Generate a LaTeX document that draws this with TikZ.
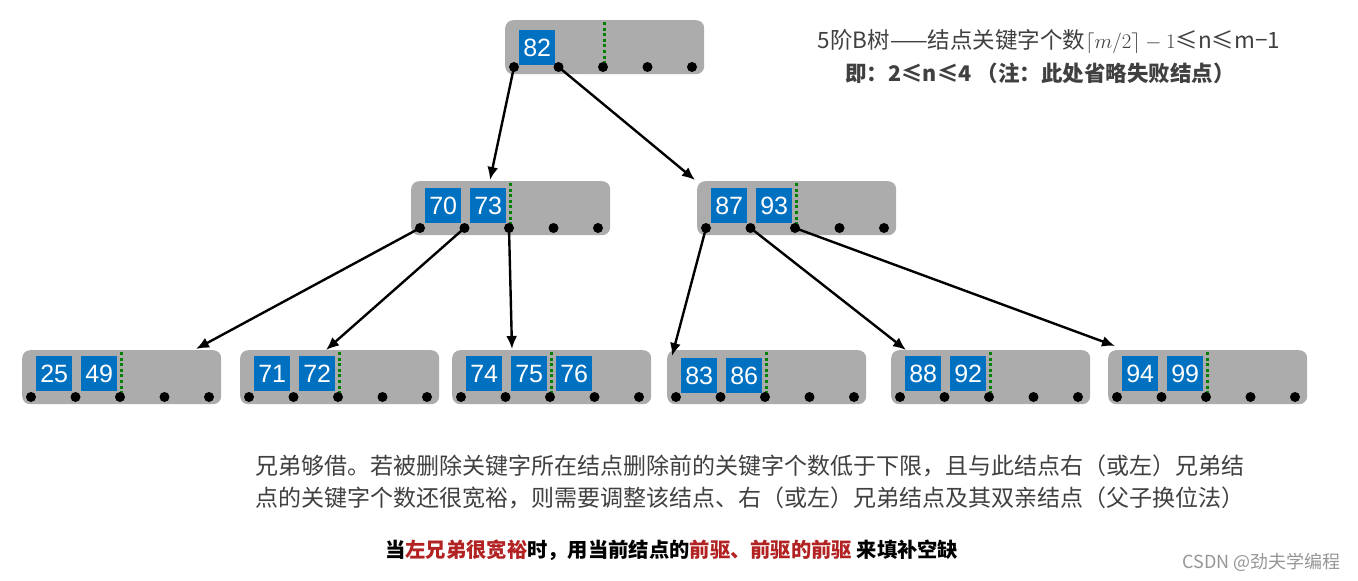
\documentclass[tikz,border=0pt]{standalone}
\usepackage{fontspec}
\setmainfont{Noto Sans CJK SC}
\newfontfamily\keyfont{Liberation Sans}
\usetikzlibrary{calc,arrows.meta}
\definecolor{boxgray}{RGB}{172,172,172}
\definecolor{keyblue}{RGB}{0,112,192}
\definecolor{sepgreen}{RGB}{0,128,0}
\definecolor{txtgray}{RGB}{64,64,64}
\definecolor{hlred}{RGB}{178,34,34}
\definecolor{wmgray}{RGB}{150,150,150}
\tikzset{
  bbox/.style={fill=boxgray, rounded corners=8pt, minimum width=199pt, minimum height=54pt, inner sep=0pt, anchor=north west, draw=none},
  bkey/.style={fill=keyblue, text=white, minimum width=36pt, minimum height=35pt, inner sep=0pt, anchor=north west, font=\keyfont\fontsize{25}{25}\selectfont},
  ptr/.style={circle, fill=black, minimum size=10pt, inner sep=0pt},
  sepline/.style={sepgreen, line width=3pt, dash pattern=on 3pt off 2.6pt},
  arr/.style={-{Latex[length=13pt,width=11pt]}, line width=2.4pt},
}
% name, x, y, keys, key y offset
\newcommand\btnode[5]{%
  \node[bbox] (#1) at (#2,#3) {};
  \foreach \k [count=\i from 0] in {#4} {
    \node[bkey] (#1k\i) at ($(#1.north west)+(14+45*\i,#5)$) {\k};
  }
  \draw[sepline] ($(#1.north west)+(99,2)$) -- ($(#1.north west)+(99,47)$);
  \foreach \j in {1,...,5} {
    \node[ptr] (#1p\j) at ($(#1.north west)+(9+44.5*\j-44.5,47)$) {};
  }
}
\begin{document}
\begin{tikzpicture}[x=1pt,y=-1pt]
\path[use as bounding box, fill=white] (0,0) rectangle (1358,581);

\btnode{root}{505}{20}{82}{10}
\btnode{L}{411}{181}{70,73}{7}
\btnode{R}{697}{181}{87,93}{7}
\btnode{A}{22}{350}{25,49}{6}
\btnode{B}{240}{350}{71,72}{6}
\btnode{C}{452}{350}{74,75,76}{6}
\btnode{D}{667}{350}{83,86}{8}
\btnode{E}{891}{350}{88,92}{6}
\btnode{F}{1108}{350}{94,99}{6}

\coordinate (tL) at (490,180);
\coordinate (tR) at (695,180);
\coordinate (tA) at (196,349);
\coordinate (tB) at (326,350);
\coordinate (tC) at (512,349);
\coordinate (tD) at (672,356);
\coordinate (tE) at (906,350);
\coordinate (tF) at (1115,346);

\draw[arr] (rootp1.center) -- (tL);
\draw[arr] (rootp2.center) -- (tR);
\draw[arr] (Lp1.center) -- (tA);
\draw[arr] (Lp2.center) -- (tB);
\draw[arr] (Lp3.center) -- (tC);
\draw[arr] (Rp1.center) -- (tD);
\draw[arr] (Rp2.center) -- (tE);
\draw[arr] (Rp3.center) -- (tF);

\node[text=txtgray, font=\fontsize{22.5}{22.5}\selectfont, inner sep=0pt] (title1) at (1049,42)
  {5阶B树——结点关键字个数$\lceil m/2\rceil - 1$≤n≤m−1};
\node[text=txtgray, font=\bfseries\fontsize{21.5}{21.5}\selectfont, inner sep=0pt] (title2) at (1040,73)
  {即：2≤n≤4 （注：此处省略失败结点）};

\node[text=txtgray, font=\fontsize{23}{23}\selectfont, inner sep=0pt, anchor=west] (para1) at (255,466)
  {兄弟够借。若被删除关键字所在结点删除前的关键字个数低于下限，且与此结点右（或左）兄弟结};
\node[text=txtgray, font=\fontsize{23}{23}\selectfont, inner sep=0pt, anchor=west] (para2) at (255,498)
  {点的关键字个数还很宽裕，则需要调整该结点、右（或左）兄弟结点及其双亲结点（父子换位法）};

\node[text=black, font=\bfseries\fontsize{20.3}{20.3}\selectfont, inner sep=0pt, anchor=west] (note) at (385,550)
  {当\textcolor{hlred}{左兄弟很宽裕}时，用当前结点的\textcolor{hlred}{前驱、前驱的前驱} 来填补空缺};

\node[text=wmgray, font=\fontsize{18}{18}\selectfont, inner sep=0pt, anchor=east] (csdn) at (1341,562)
  {CSDN @劲夫学编程};
\end{tikzpicture}
\end{document}
